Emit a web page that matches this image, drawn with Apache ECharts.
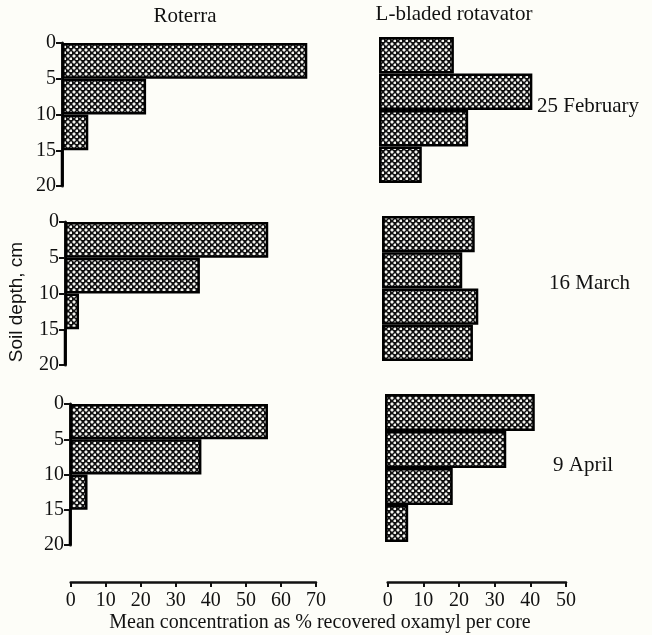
<!DOCTYPE html>
<html>
<head>
<meta charset="utf-8">
<script src="https://cdn.jsdelivr.net/npm/echarts@6/dist/echarts.min.js"></script>
<style>
html,body{margin:0;padding:0;background:#fdfdf8;}
#c{width:652px;height:635px;}
</style>
</head>
<body>
<div id="c"></div>
<script>
// ---- data ----
const depthBins = ['0-5', '5-10', '10-15', '15-20'];
const depthMin = 0, depthMax = 20, depthStep = 5;
const implementNames = ['Roterra', 'L-bladed rotavator'];
const dateLabels = ['25 February', '16 March', '9 April'];
const roterraMax = 70, rotavatorMax = 50, concStep = 10;
const roterraFeb = [70, 24, 7.5, 0];
const roterraMar = [58, 38.5, 4, 0];
const roterraApr = [56.5, 37.5, 5, 0];
const rotavatorFeb = [21, 43, 25, 12];
const rotavatorMar = [26, 22.5, 27, 25.5];
const rotavatorApr = [42, 34, 19, 6.5];
const xAxisTitle = 'Mean concentration as % recovered oxamyl per core';
const yAxisTitle = 'Soil depth, cm';

// ---- pattern ----
const pc = document.createElement('canvas');
pc.width = 6; pc.height = 6;
const pctx = pc.getContext('2d');
pctx.fillStyle = '#111';
pctx.fillRect(0, 0, 6, 6);
pctx.fillStyle = '#777';
pctx.fillRect(0, 1, 4, 2); pctx.fillRect(1, 0, 2, 4);
pctx.fillRect(3, 4, 3, 2); pctx.fillRect(4, 3, 2, 3);
pctx.fillStyle = '#f4f4ee';
pctx.fillRect(1, 1, 2, 2);
pctx.fillRect(4, 4, 2, 2);
const pattern = { image: pc, repeat: 'repeat' };

const serif = '"Liberation Serif", "DejaVu Serif", serif';
const ink = '#111';

// panel layout (px)
const pxPerUnitL = 3.504, pxPerUnitR = 3.566;
const panels = [
  { data: roterraFeb,   left: 62,  top: 43,  height: 143, max: roterraMax,  ppu: pxPerUnitL, axis: true },
  { data: rotavatorFeb, left: 379, top: 37,  height: 146, max: rotavatorMax, ppu: pxPerUnitR, axis: false },
  { data: roterraMar,   left: 65,  top: 222, height: 143, max: roterraMax,  ppu: pxPerUnitL, axis: true },
  { data: rotavatorMar, left: 382, top: 216, height: 145, max: rotavatorMax, ppu: pxPerUnitR, axis: false },
  { data: roterraApr,   left: 70,  top: 404, height: 141, max: roterraMax,  ppu: pxPerUnitL, axis: true },
  { data: rotavatorApr, left: 385, top: 394, height: 148, max: rotavatorMax, ppu: pxPerUnitR, axis: false }
];

const grid = [], xAxis = [], yAxis = [], series = [];
panels.forEach((p, i) => {
  grid.push({ left: p.left, top: p.top, width: p.max * p.ppu, height: p.height, containLabel: false });
  xAxis.push({ type: 'value', gridIndex: i, min: 0, max: p.max, show: false });
  yAxis.push({ type: 'category', gridIndex: i, data: depthBins, inverse: true, show: false });
  const catIdx = yAxis.length - 1;
  if (p.axis) {
    yAxis.push({
      type: 'value', gridIndex: i, min: depthMin, max: depthMax, interval: depthStep, inverse: true,
      position: 'left',
      axisLine: { show: true, lineStyle: { color: ink, width: 3 } },
      axisTick: { show: true, length: 6, lineStyle: { color: ink, width: 2 } },
      axisLabel: { color: ink, fontFamily: serif, fontSize: 20, margin: 6 },
      splitLine: { show: false }
    });
  }
  series.push({
    type: 'bar', xAxisIndex: i, yAxisIndex: catIdx, data: p.data,
    barWidth: '100%', barCategoryGap: '0%',
    itemStyle: { color: pattern, borderColor: '#000', borderWidth: 2.5 },
    silent: true, animation: false
  });
});

// bottom concentration axes (separate thin grids)
const bottomAxes = [
  { left: 70.7, max: roterraMax, ppu: pxPerUnitL },
  { left: 387.7, max: rotavatorMax, ppu: pxPerUnitR }
];
bottomAxes.forEach(b => {
  const gi = grid.length;
  grid.push({ left: b.left, top: 581, width: b.max * b.ppu, height: 1 });
  xAxis.push({
    type: 'value', gridIndex: gi, min: 0, max: b.max, interval: concStep, position: 'bottom',
    axisLine: { show: true, lineStyle: { color: ink, width: 2.5 } },
    axisTick: { show: true, length: 5, lineStyle: { color: ink, width: 2 } },
    axisLabel: { color: ink, fontFamily: serif, fontSize: 20, margin: 9 },
    splitLine: { show: false }
  });
  yAxis.push({ type: 'value', gridIndex: gi, min: 0, max: 1, show: false });
});

function txt(text, x, y, opts) {
  opts = opts || {};
  return {
    type: 'text', x: x, y: y, rotation: opts.rotation || 0, silent: true,
    style: {
      text: text, fill: ink,
      font: (opts.size || 21) + 'px ' + (opts.family || serif),
      textAlign: opts.align || 'left', textVerticalAlign: 'middle', verticalAlign: 'middle'
    }
  };
}

const graphic = [
  txt(implementNames[0], 185, 16, { align: 'center' }),
  txt(implementNames[1], 454, 14, { align: 'center' }),
  txt(dateLabels[0], 537, 106),
  txt(dateLabels[1], 549, 283),
  txt(dateLabels[2], 553, 465),
  txt(yAxisTitle, 17, 302, { align: 'center', rotation: Math.PI / 2, size: 19, family: '"Liberation Sans", Arial, sans-serif' }),
  txt(xAxisTitle, 320, 623, { align: 'center', size: 20 })
];

const chart = echarts.init(document.getElementById('c'), null, { renderer: 'canvas' });
chart.setOption({
  backgroundColor: '#fdfdf8',
  animation: false,
  grid: grid, xAxis: xAxis, yAxis: yAxis, series: series, graphic: graphic
});
</script>
</body>
</html>
